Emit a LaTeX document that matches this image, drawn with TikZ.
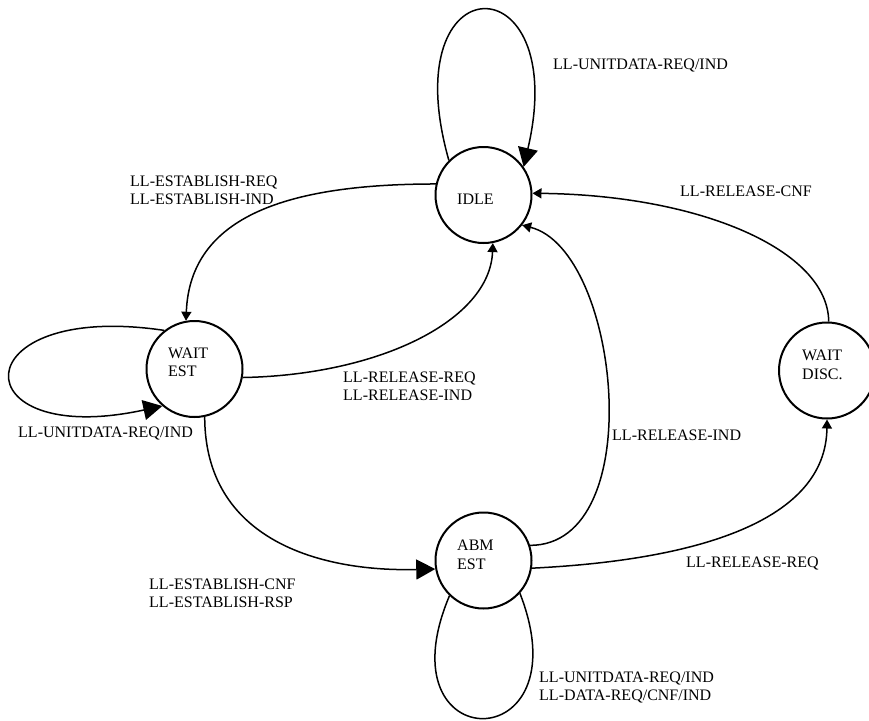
\documentclass[tikz,border=0pt]{standalone}
\usepackage{fontspec}
\setmainfont{Liberation Serif}
\usetikzlibrary{arrows.meta}
\begin{document}
\begin{tikzpicture}[x=1pt,y=-1pt,
  state/.style={circle,draw,line width=2pt,minimum size=96pt,inner sep=0pt},
  lbl/.style={anchor=base west,inner sep=0pt,font=\fontsize{16}{18}\selectfont},
  edge/.style={line width=1.5pt},
  sarr/.style={edge,-{Triangle[length=9pt,width=10pt]}},
  barr/.style={edge,-{Triangle[length=19pt,width=20pt]}}]
\useasboundingbox (0,0) rectangle (869,720);
% states
\node[state] (idle) at (483.5,195) {};
\node[state] (west) at (194.5,369) {};
\node[state] (abm) at (483.5,560.5) {};
\node[state] (disc) at (827,370.5) {};
\node[lbl] (tidle) at (457,204) {IDLE};
\node[lbl] (tw1) at (168,358) {WAIT};
\node[lbl] (tw2) at (168,376) {EST};
\node[lbl] (ta1) at (457,550) {ABM};
\node[lbl] (ta2) at (457,569) {EST};
\node[lbl] (td1) at (802,360) {WAIT};
\node[lbl] (td2) at (802,379) {DISC.};
% transitions
\draw[barr] (idle.135) .. controls (392,-40) and (572,-40) .. (idle.35);
\draw[sarr] (idle.167) .. controls (290,184) and (190,215) .. (west.100);
\draw[sarr] (west.-10) .. controls (380,375) and (490,320) .. (idle.-79);
\draw[barr] (west.128) .. controls (-40,300) and (-40,450) .. (west.-131);
\draw[barr] (west.-78) .. controls (205,540) and (320,572) .. (abm.190);
\draw[edge] (abm.-134) .. controls (380,760) and (585,760) .. (abm.-42);
\draw[sarr] (abm.18) .. controls (650,545) and (620,250) .. (idle.-38);
\draw[sarr] (abm.-9) .. controls (700,560) and (826,520) .. (disc.-90);
\draw[sarr] (disc.88) .. controls (828,250) and (700,195) .. (idle.2);
% labels
\node[lbl] (l1) at (553,69) {LL-UNITDATA-REQ/IND};
\node[lbl] (l2a) at (130,186) {LL-ESTABLISH-REQ};
\node[lbl] (l2b) at (130,204) {LL-ESTABLISH-IND};
\node[lbl] (l3) at (680,196) {LL-RELEASE-CNF};
\node[lbl] (l4a) at (343,382) {LL-RELEASE-REQ};
\node[lbl] (l4b) at (343,400) {LL-RELEASE-IND};
\node[lbl] (l5) at (612,440) {LL-RELEASE-IND};
\node[lbl] (l6) at (686,567) {LL-RELEASE-REQ};
\node[lbl] (l7a) at (149,589) {LL-ESTABLISH-CNF};
\node[lbl] (l7b) at (149,607) {LL-ESTABLISH-RSP};
\node[lbl] (l8) at (18,437) {LL-UNITDATA-REQ/IND};
\node[lbl] (l9a) at (539,682) {LL-UNITDATA-REQ/IND};
\node[lbl] (l9b) at (539,700) {LL-DATA-REQ/CNF/IND};
\end{tikzpicture}
\end{document}
